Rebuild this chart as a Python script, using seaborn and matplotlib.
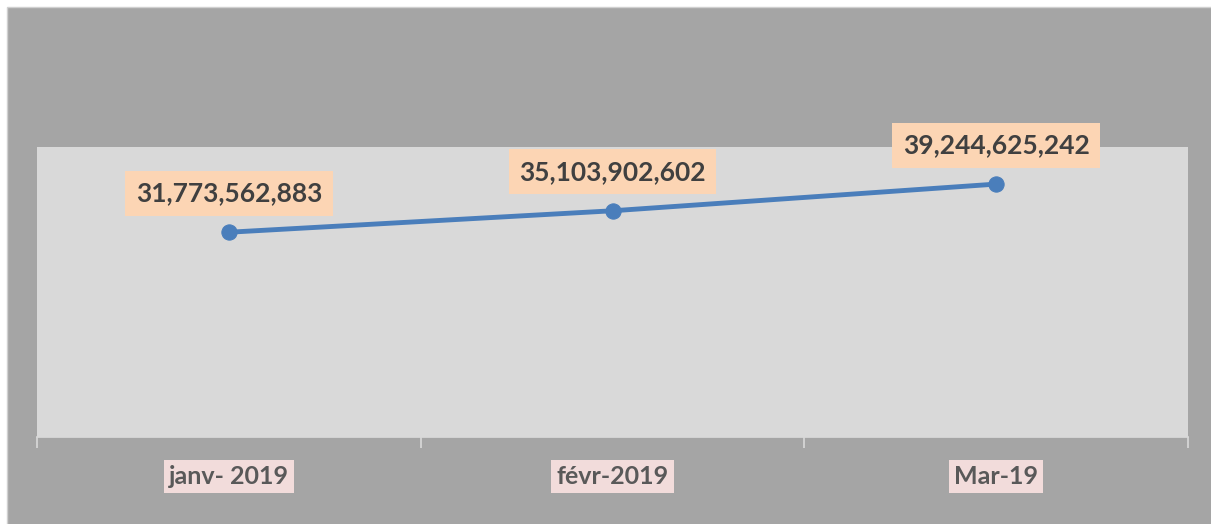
import numpy as np
import pandas as pd
import seaborn as sns
import matplotlib.pyplot as plt
from matplotlib.patches import Rectangle

# données du graphique
mois = ['janv- 2019', 'févr-2019', 'Mar-19']
montants = [31773562883, 35103902602, 39244625242]

df = pd.DataFrame({'mois': mois, 'montant': montants})

sns.set_theme(style='white')
plt.rcParams['font.family'] = ['Lato', 'DejaVu Sans']

fig = plt.figure(figsize=(12.11, 5.24), dpi=100, facecolor='white')
# fond gris du graphique (avec fine bordure blanche en haut et à gauche)
fig.patches.append(Rectangle((7 / 1211, -0.05), 1, 1.05 - 7 / 524, transform=fig.transFigure,
                             facecolor='#a5a5a5', edgecolor='#d0d0d0', linewidth=1, zorder=-5))

ax = fig.add_axes([37 / 1211, 1 - 437 / 524, 1151 / 1211, 290 / 524])
ax.set_facecolor('#d9d9d9')

sns.lineplot(data=df, x='mois', y='montant', ax=ax, color='#4a7ebb', linewidth=3.5,
             marker='o', markersize=11, markeredgecolor='#4a7ebb', sort=False)

ax.set_xlim(-0.5, len(mois) - 0.5)
ax.set_ylim(0, 45e9)
ax.set_yticks([])
ax.set_xlabel('')
ax.set_ylabel('')
for s in ['top', 'right', 'left']:
    ax.spines[s].set_visible(False)
ax.spines['bottom'].set_color('#d9d9d9')

# étiquettes de données
for i, v in enumerate(montants):
    ax.annotate('{:,}'.format(v), (i, v), xytext=(0, 28), textcoords='offset points',
                ha='center', va='center', fontsize=19, fontweight='bold', color='#404040',
                bbox=dict(boxstyle='square,pad=0.4', facecolor='#fcd5b4', edgecolor='none'))

# graduations aux limites des catégories
ax.set_xticks(np.arange(len(mois) + 1) - 0.5)
ax.set_xticklabels([])
ax.tick_params(axis='x', direction='out', length=8, width=1.2, color='#d9d9d9', bottom=True)

for i, m in enumerate(mois):
    ax.text(i, -0.135, m, transform=ax.get_xaxis_transform(), ha='center', va='center',
            fontsize=18, fontweight='bold', color='#595959',
            bbox=dict(boxstyle='square,pad=0.2', facecolor='#f2dcdb', edgecolor='none'))

fig.savefig('out.png', dpi=100, facecolor=fig.get_facecolor())
